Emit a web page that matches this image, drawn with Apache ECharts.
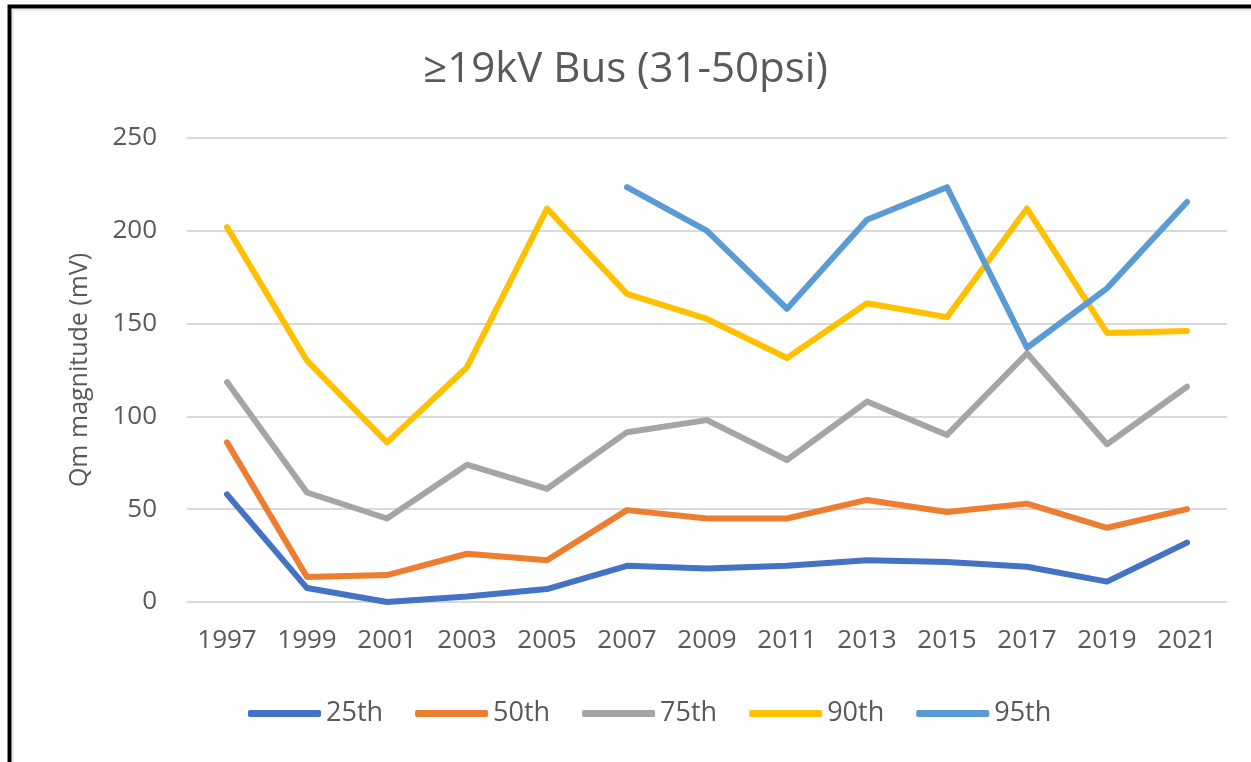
<!DOCTYPE html>
<html>
<head>
<meta charset="utf-8">
<script src="https://cdn.jsdelivr.net/npm/echarts@6/dist/echarts.min.js"></script>
<style>
html,body{margin:0;padding:0;background:#fff;}
#chart{width:1251px;height:762px;}
</style>
</head>
<body>
<div id="chart"></div>
<script>
const categories = ['1997','1999','2001','2003','2005','2007','2009','2011','2013','2015','2017','2019','2021'];
const p25 = [58, 7.5, 0, 3, 7, 19.5, 18, 19.5, 22.5, 21.5, 19, 11, 32];
const p50 = [86, 13.5, 14.5, 26, 22.5, 49.5, 45, 45, 55, 48.5, 53, 40, 50];
const p75 = [118.5, 59, 45, 74, 61, 91.5, 98, 76.5, 108, 90, 134, 85, 116];
const p90 = [202, 130, 86, 126.5, 212, 166, 152.5, 131.5, 161, 153.5, 212, 145, 146];
const p95 = [null, null, null, null, null, 223.5, 200, 158, 206, 223.5, 137, 169, 215.5];
const seriesNames = ['25th', '50th', '75th', '90th', '95th'];
const colors = ['#4472C4', '#ED7D31', '#A5A5A5', '#FFC000', '#5B9BD5'];
const yTicks = [0, 50, 100, 150, 200, 250];

const font = 'Open Sans, Liberation Sans, sans-serif';
const txt = '#595959';
const chart = echarts.init(document.getElementById('chart'));
const dataSets = [p25, p50, p75, p90, p95];
chart.setOption({
  animation: false,
  color: colors,
  graphic: [{
    type: 'rect', silent: true,
    shape: { x: 9.5, y: 6.5, width: 1400, height: 900 },
    style: { fill: 'none', stroke: '#000', lineWidth: 4 }
  }, {
    type: 'rect', silent: true,
    shape: { x: 13, y: 10, width: 1400, height: 900 },
    style: { fill: 'none', stroke: '#d9d9d9', lineWidth: 1 }
  }],
  title: {
    text: '≥19kV Bus (31-50psi)',
    left: 'center', top: 44,
    textStyle: { fontFamily: font, fontSize: 42, fontWeight: 'normal', color: txt }
  },
  legend: {
    bottom: 30, left: 243,
    itemWidth: 73, itemHeight: 7, itemGap: 32,
    icon: 'roundRect',
    textStyle: { fontFamily: font, fontSize: 27, color: txt, padding: [0,0,0,0] },
    data: seriesNames
  },
  grid: { left: 187, right: 24, top: 138, bottom: 160 },
  xAxis: {
    type: 'category', data: categories, boundaryGap: true,
    axisLine: { show: false }, axisTick: { show: false },
    axisLabel: { fontFamily: font, fontSize: 26, color: txt, margin: 26, interval: 0 }
  },
  yAxis: {
    type: 'value', min: 0, max: 250, interval: 50,
    name: 'Qm magnitude (mV)', nameLocation: 'middle', nameGap: 95,
    nameTextStyle: { fontFamily: font, fontSize: 25, color: txt },
    axisLine: { show: false }, axisTick: { show: false },
    axisLabel: { fontFamily: font, fontSize: 26, color: txt, margin: 30,
      formatter: v => yTicks.includes(v) ? String(v) : '' },
    splitLine: { lineStyle: { color: '#d9d9d9', width: 2 } }
  },
  series: dataSets.map((d, i) => ({
    name: seriesNames[i], type: 'line', data: d,
    showSymbol: false, symbol: 'none', connectNulls: false,
    lineStyle: { width: 6, cap: 'round', join: 'round', color: colors[i] },
    itemStyle: { color: colors[i] }
  }))
});
</script>
</body>
</html>
